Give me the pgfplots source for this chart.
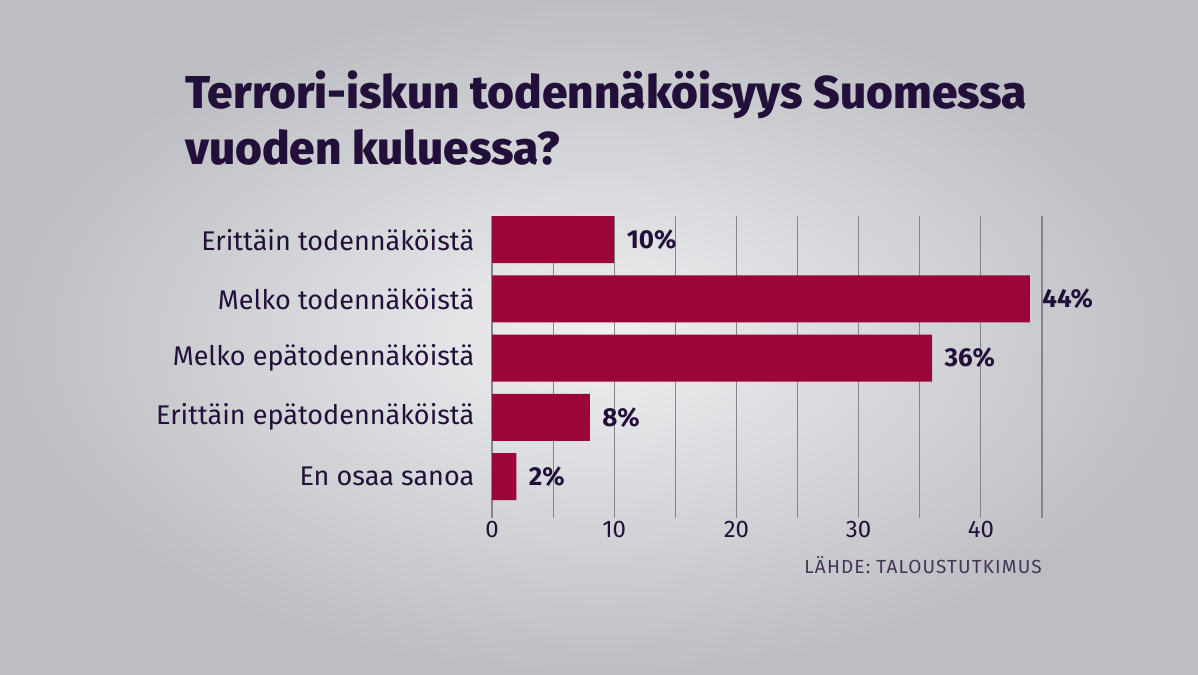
\documentclass[border=0pt]{standalone}
\usepackage{fontspec}
\setmainfont{Fira Sans}
\newfontfamily\titlefont{Fira Sans ExtraBold}
\usepackage{pgfplots}
\pgfplotsset{compat=1.18}
\definecolor{barc}{HTML}{9B0539}
\definecolor{ink}{HTML}{23103A}
\definecolor{gridc}{HTML}{85848C}
\definecolor{bgin}{HTML}{F0F0F2}
\definecolor{bgout}{HTML}{BCBEC3}
\begin{document}
\begin{tikzpicture}[x=1pt,y=1pt]
\shade[inner color=bgin, outer color=bgout] (0,0) rectangle (1198,674);
\path[use as bounding box] (0,0) rectangle (1198,674);
\node[anchor=base west, inner sep=0, text=ink, font=\fontsize{46}{52}\titlefont] at (185,565) {Terrori-iskun todennäköisyys Suomessa};
\node[anchor=base west, inner sep=0, text=ink, font=\fontsize{46}{52}\titlefont] at (185,509) {vuoden kuluessa?};
\begin{axis}[
  at={(492pt,156pt)}, anchor=south west, scale only axis,
  width=550pt, height=302pt,
  xmin=0, xmax=45, ymin=-0.4, ymax=4.7, y dir=reverse,
  xbar, bar width=47pt,
  xtick={0,10,20,30,40}, minor xtick={5,15,25,35,45},
  xmajorgrids, xminorgrids,
  major grid style={gridc, line width=1.1pt},
  minor grid style={gridc, line width=1.1pt},
  axis line style={draw=none}, major tick style={draw=none}, minor tick style={draw=none},
  ytick={0,1,2,3,4},
  yticklabels={Erittäin todennäköistä, Melko todennäköistä, Melko epätodennäköistä, Erittäin epätodennäköistä, En osaa sanoa},
  yticklabel style={text=ink, font=\fontsize{27}{30}\selectfont, xshift=-10pt},
  xticklabel style={text=ink, font=\fontsize{24}{28}\selectfont},
  /pgf/number format/assume math mode=true,
  nodes near coords={\pgfmathprintnumber{\pgfplotspointmeta}\%},
  nodes near coords style={text=ink, font=\fontsize{26}{30}\selectfont\bfseries, anchor=west, xshift=9pt},
  point meta=explicit,
]
\addplot[fill=barc, draw=none] coordinates {(10,0) [10] (44,1) [44] (36,2) [36] (8,3) [8] (2,4) [2]};
\end{axis}
\node[anchor=base east, inner sep=0, text=ink!85!white, font=\fontsize{19}{22}\selectfont\addfontfeature{LetterSpace=6}] at (1042,100) {LÄHDE: TALOUSTUTKIMUS};
\end{tikzpicture}
\end{document}
